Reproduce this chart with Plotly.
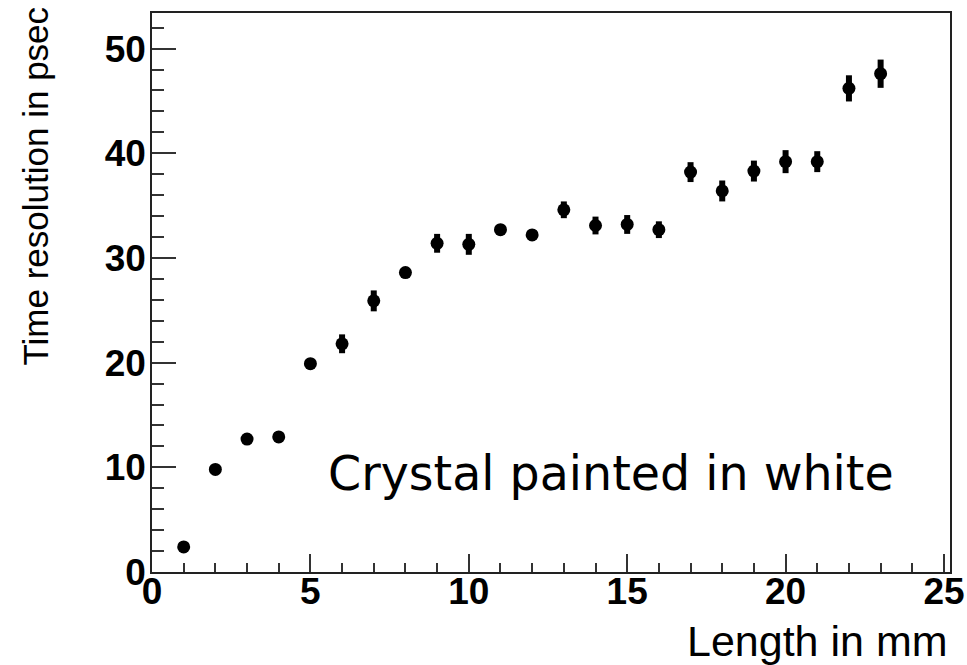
import plotly.graph_objects as go

# Time resolution vs crystal length (crystal painted in white)
length_mm = [1, 2, 3, 4, 5, 6, 7, 8, 9, 10, 11, 12,
             13, 14, 15, 16, 17, 18, 19, 20, 21, 22, 23]
resolution_ps = [2.4, 9.8, 12.7, 12.9, 19.9, 21.8, 25.9, 28.6, 31.4, 31.3, 32.7, 32.2,
                 34.6, 33.1, 33.2, 32.7, 38.2, 36.4, 38.3, 39.2, 39.2, 46.2, 47.6]
resolution_err = [0.3, 0.3, 0.4, 0.4, 0.5, 0.9, 1.0, 0.5, 0.9, 1.0, 0.5, 0.5,
                  0.8, 0.85, 0.9, 0.8, 0.95, 1.0, 1.0, 1.1, 1.0, 1.25, 1.35]

x_ticks = [0, 5, 10, 15, 20, 25]
y_ticks = [0, 10, 20, 30, 40, 50]

W, H = 967, 665
M_L, M_R, M_T, M_B = 152, 17, 13, 93

fig = go.Figure()
fig.add_trace(go.Scatter(
    x=length_mm, y=resolution_ps, mode="markers",
    marker=dict(symbol="circle", size=13, color="black"),
    error_y=dict(type="data", array=resolution_err, visible=True,
                 thickness=6, width=0, color="black"),
    showlegend=False, hoverinfo="skip",
))

tick_font = dict(family="Liberation Sans, Arial, sans-serif", size=37,
                 color="black", weight="bold")

fig.update_xaxes(
    range=[0, 25.19], tickvals=x_ticks, ticktext=[str(v) for v in x_ticks],
    showgrid=False, zeroline=False, automargin=False,
    showline=True, mirror=True, linecolor="#222", linewidth=1.6,
    ticks="inside", ticklen=18, tickwidth=1.5, tickcolor="#333",
    minor=dict(dtick=1, ticks="inside", ticklen=9, tickwidth=1.5,
               tickcolor="#333", showgrid=False),
    tickfont=tick_font, ticklabelstandoff=-14,
)
fig.update_yaxes(
    range=[0, 53.4], tickvals=y_ticks, ticktext=[str(v) for v in y_ticks],
    showgrid=False, zeroline=False, automargin=False,
    showline=True, mirror=True, linecolor="#222", linewidth=1.6,
    ticks="inside", ticklen=24, tickwidth=1.5, tickcolor="#333",
    minor=dict(dtick=2, ticks="inside", ticklen=12, tickwidth=1.5,
               tickcolor="#333", showgrid=False),
    tickfont=tick_font, ticklabelstandoff=-3,
)

plot_w = W - M_L - M_R
plot_h = H - M_T - M_B

fig.add_annotation(
    text="Crystal painted in white", x=5.5, y=9.4, xref="x", yref="y",
    xanchor="left", yanchor="middle", showarrow=False,
    font=dict(family="DejaVu Sans", size=47.5, color="black"),
)
fig.add_annotation(
    text="Length in mm", x=1.0, y=(H - M_B - 641) / plot_h,
    xref="paper", yref="paper", xanchor="right", yanchor="middle",
    showarrow=False,
    font=dict(family="Liberation Sans, Arial, sans-serif", size=43, color="black"),
)
fig.add_annotation(
    text="Time resolution in psec", textangle=-90,
    x=(35 - M_L) / plot_w, y=(H - M_B - 186.5) / plot_h,
    xref="paper", yref="paper", xanchor="center", yanchor="middle",
    showarrow=False,
    font=dict(family="Liberation Sans, Arial, sans-serif", size=35, color="black"),
)

fig.update_layout(
    width=W, height=H,
    margin=dict(l=M_L, r=M_R, t=M_T, b=M_B, pad=0),
    paper_bgcolor="white", plot_bgcolor="white",
)

fig.write_html("out.html")
